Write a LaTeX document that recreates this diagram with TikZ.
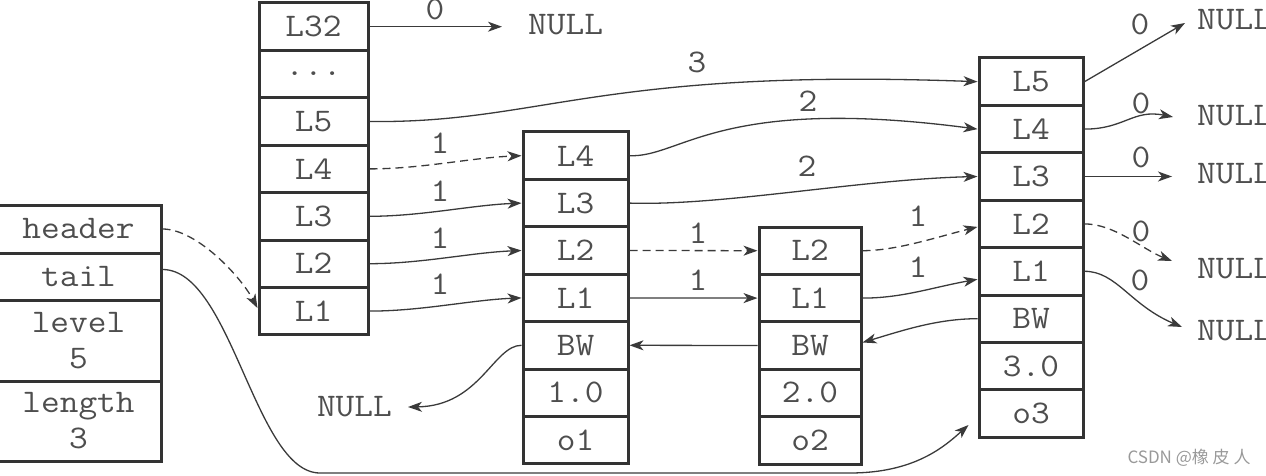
\documentclass[tikz,border=0pt]{standalone}
\usepackage{fontspec}
\setmonofont{Latin Modern Mono}[FakeStretch=1.1]
\newfontfamily\cjkfont{Noto Sans CJK SC}
\usetikzlibrary{arrows.meta}
\definecolor{boxline}{HTML}{333333}
\definecolor{ink}{HTML}{4E4E4E}
\definecolor{wire}{HTML}{3A3A3A}

\begin{document}
\begin{tikzpicture}[x=1pt,y=-1pt,
  cell/.style={draw=boxline, line width=3pt, rectangle, inner sep=0pt,
    minimum height=47.4pt, text=ink, font=\fontsize{33}{36}\selectfont\ttfamily},
  colA/.style={cell, minimum width=109pt},
  colB/.style={cell, minimum width=105pt},
  colC/.style={cell, minimum width=102pt},
  colD/.style={cell, minimum width=104pt},
  hdr/.style={cell, minimum width=165pt, align=center},
  lbl/.style={inner sep=0pt, text=ink, font=\fontsize{33}{36}\selectfont\ttfamily},
  nul/.style={inner sep=0pt, text=ink, font=\fontsize{33}{36}\selectfont\ttfamily},
  wire/.style={draw=wire, line width=1.3pt, -{Stealth[length=14pt,width=10pt,inset=4pt]}},
  dwire/.style={wire, dash pattern=on 8pt off 5pt}]
\useasboundingbox (0,0) rectangle (1266,476);

% list header
\node[hdr, minimum height=48pt] (h1) at (78.5,229) {header};
\node[hdr, minimum height=47pt] (h2) at (78.5,276.5) {tail};
\node[hdr, minimum height=81pt] (h3) at (78.5,340.5) {level\\5};
\node[hdr, minimum height=80pt] (h4) at (78.5,421) {length\\3};

% header node of the skip list
\node[colA] (c1a) at (313.5,26.7) {L32};
\node[colA] (c1b) at (313.5,74.1) {...};
\node[colA] (c1c) at (313.5,121.5) {L5};
\node[colA] (c1d) at (313.5,168.9) {L4};
\node[colA] (c1e) at (313.5,216.3) {L3};
\node[colA] (c1f) at (313.5,263.7) {L2};
\node[colA] (c1g) at (313.5,311.1) {L1};

% node o1
\node[colB] (c2a) at (575.5,155.7) {L4};
\node[colB] (c2b) at (575.5,203.1) {L3};
\node[colB] (c2c) at (575.5,250.5) {L2};
\node[colB] (c2d) at (575.5,297.9) {L1};
\node[colB] (c2e) at (575.5,345.3) {BW};
\node[colB] (c2f) at (575.5,392.7) {1.0};
\node[colB] (c2g) at (575.5,440.1) {o1};

% node o2
\node[colC] (c3a) at (810,250.7) {L2};
\node[colC] (c3b) at (810,298.1) {L1};
\node[colC] (c3c) at (810,345.5) {BW};
\node[colC] (c3d) at (810,392.9) {2.0};
\node[colC] (c3e) at (810,440.3) {o2};

% node o3
\node[colD] (c4a) at (1031,81.7) {L5};
\node[colD] (c4b) at (1031,129.1) {L4};
\node[colD] (c4c) at (1031,176.5) {L3};
\node[colD] (c4d) at (1031,223.9) {L2};
\node[colD] (c4e) at (1031,271.3) {L1};
\node[colD] (c4f) at (1031,318.7) {BW};
\node[colD] (c4g) at (1031,366.1) {3.0};
\node[colD] (c4h) at (1031,413.5) {o3};

% NULL targets
\node[nul, anchor=west] (nTop) at (528,25) {NULL};
\node[nul, anchor=east] (nLeft) at (392,407) {NULL};
\node[nul, anchor=west] (nR1) at (1197,20) {NULL};
\node[nul, anchor=west] (nR2) at (1197,116) {NULL};
\node[nul, anchor=west] (nR3) at (1197,174) {NULL};
\node[nul, anchor=west] (nR4) at (1197,269) {NULL};
\node[nul, anchor=west] (nR5) at (1197,331) {NULL};

% span labels
\node[lbl] (k0) at (435,9) {0};
\node[lbl] (k3) at (697,62) {3};
\node[lbl] (k14) at (440,143) {1};
\node[lbl] (k13) at (440,191) {1};
\node[lbl] (k12) at (440,238) {1};
\node[lbl] (k11) at (440,284) {1};
\node[lbl] (k24) at (808,101) {2};
\node[lbl] (k23) at (807,166) {2};
\node[lbl] (k22) at (698,233) {1};
\node[lbl] (k21) at (698,280) {1};
\node[lbl] (k32) at (918,216) {1};
\node[lbl] (k31) at (918,267) {1};
\node[lbl] (r5) at (1140,24) {0};
\node[lbl] (r4) at (1141,103) {0};
\node[lbl] (r3) at (1141,157) {0};
\node[lbl] (r2) at (1141,231) {0};
\node[lbl] (r1) at (1140,280) {0};

% forward pointers from the header node
\draw[wire, shorten >=26pt] (c1a.east) -- (c1a.east -| nTop.west);
\draw[wire] (c1c.east) .. controls +(172,2) and +(-379,-14) .. (c4a.west);
\draw[dwire] (c1d.east) .. controls +(52,0) and +(-50,2) .. (c2a.west);
\draw[wire] (c1e.east) .. controls +(52,0) and +(-50,2) .. (c2b.west);
\draw[wire] (c1f.east) .. controls +(52,0) and +(-50,2) .. (c2c.west);
\draw[wire] (c1g.east) .. controls +(52,0) and +(-50,2) .. (c2d.west);

% forward pointers from o1
\draw[wire] (c2a.east) .. controls +(52,2) and +(-259,-34) .. (c4b.west);
\draw[wire] (c2b.east) .. controls +(92,3) and +(-119,3) .. (c4c.west);
\draw[dwire] (c2c.east) -- (c3a.west);
\draw[wire] (c2d.east) -- (c3b.west);

% forward pointers from o2
\draw[dwire] (c3a.east) .. controls +(34,0) and +(-40,10) .. ([yshift=-3pt]c4d.west);
\draw[wire] (c3b.east) .. controls +(40,0) and +(-45,8) .. ([yshift=-8pt]c4e.west);

% backward pointers
\draw[wire] (c4f.west) .. controls +(-40,0) and +(40,-12) .. ([yshift=3pt]c3c.east);
\draw[wire] (c3c.west) -- (c2e.east);
\draw[wire] (c2e.west) .. controls +(-28,0) and +(72,-1) .. ([xshift=16pt]nLeft.east);

% forward pointers from o3
\draw[wire] (c4a.east) -- ([xshift=-12pt,yshift=-3pt]nR1.west);
\draw[wire] (c4b.east) .. controls +(40,0) and +(-40,-8) .. ([xshift=-24pt,yshift=-1pt]nR2.west);
\draw[wire, shorten >=25pt] (c4c.east) -- (c4c.east -| nR3.west);
\draw[dwire] (c4d.east) .. controls +(30,0) and +(-30,-12) .. ([xshift=-25pt,yshift=8pt]nR4.west);
\draw[wire] (c4e.east) .. controls +(32,0) and +(-52,-22) .. ([xshift=-15pt,yshift=4pt]nR5.west);

% list header pointers
\draw[dwire] (h1.east) .. controls +(34,0) and +(-17,-32) .. ([yshift=3pt]c1g.west);
\draw[wire] ([yshift=7pt]h2.east) .. controls +(69,0) and +(-65,0) .. (320,473)
  -- (850,473) .. controls (915,473) and (945,446) .. ([xshift=-9pt,yshift=-11.5pt]c4h.west);

% watermark
\node[text=gray!80, font=\cjkfont\fontsize{17}{17}\selectfont] (wm) at (1189,458) {CSDN @橡 皮 人};
\end{tikzpicture}
\end{document}
